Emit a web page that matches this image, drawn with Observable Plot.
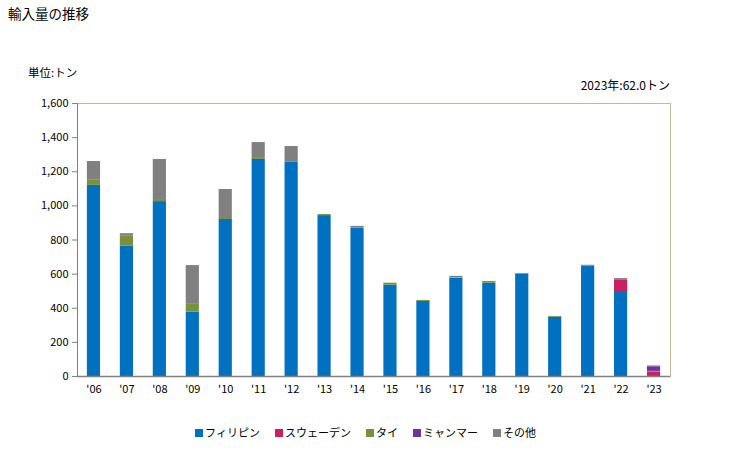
<!DOCTYPE html>
<html><head><meta charset="utf-8">
<script src="https://cdn.jsdelivr.net/npm/d3@7"></script>
<script src="https://cdn.jsdelivr.net/npm/@observablehq/plot@0.6"></script>
<style>
body{margin:0;background:#fff;font-family:"Noto Sans CJK JP","Noto Sans",sans-serif;}
#wrap{position:relative;width:729px;height:450px;}
.t{position:absolute;font-size:12px;color:#000;white-space:nowrap;}
#legend{position:absolute;top:424px;left:0;width:729px;display:flex;justify-content:center;gap:15px;font-size:11px;padding-left:2px;box-sizing:border-box;}
#legend span.sw{display:inline-block;width:8px;height:8px;margin-right:2px;vertical-align:middle;position:relative;top:-1px;}
</style></head>
<body><div id="wrap">
<div class="t" style="left:8px;top:3px;font-size:13.5px;">輸入量の推移</div>
<div class="t" style="left:28px;top:64px;font-size:11.5px;">単位:トン</div>
<div class="t" style="right:59px;top:76px;">2023年:62.0トン</div>
<div id="legend"></div>
</div>
<script>
const years = ["'06","'07","'08","'09","'10","'11","'12","'13","'14","'15","'16","'17","'18","'19","'20","'21","'22","'23"];
const seriesNames = ["フィリピン","スウェーデン","タイ","ミャンマー","その他"];
const seriesColors = ["#0070C0","#CC1F62","#76923C","#7030A0","#808080"];
const philippines = [1120,765,1025,377,920,1272,1255,943,870,535,440,575,547,600,347,647,498,0];
const sweden      = [0,0,0,0,0,0,0,0,0,0,0,0,0,0,0,0,65,27];
const thailand    = [30,60,12,50,6,11,5,6,1,12,6,3,10,4,5,5,0,3];
const myanmar     = [0,0,0,0,0,0,0,0,0,0,0,0,0,0,0,0,0,27];
const others      = [110,12,235,223,170,88,88,0,9,0,0,9,0,0,0,0,11,5];
const yTicks = [0,200,400,600,800,1000,1200,1400,1600];

const seriesValues = [philippines, sweden, thailand, myanmar, others];
const data = [];
seriesNames.forEach((s,i)=>years.forEach((y,j)=>data.push({year:y, series:s, value:seriesValues[i][j]})));

const chart = Plot.plot({
  width:729, height:450,
  marginLeft:77, marginRight:59, marginTop:103, marginBottom:74,
  style:{fontFamily:"'Noto Sans CJK JP','Noto Sans',sans-serif", fontSize:"11px", color:"#000", background:"#fff"},
  x:{domain:years, paddingInner:0.6, paddingOuter:0.3, round:false, label:null},
  y:{domain:[0,1600], label:null},
  color:{domain:seriesNames, range:seriesColors},
  marks:[
    Plot.frame({stroke:"#C4BC96"}),
    Plot.barY(data,{x:"year", y:"value", fill:"series", order:seriesNames}),
    Plot.frame({anchor:"left", stroke:"#808080"}),
    Plot.ruleY([0],{stroke:"#808080", strokeWidth:1.5}),
    Plot.axisY({ticks:yTicks, tickSize:5, tickPadding:4, tickFormat:d3.format(","), stroke:"#808080", fontSize:11}),
    Plot.axisX({tickSize:0, tickPadding:9, fontSize:11})
  ]
});
document.getElementById("wrap").prepend(chart);
chart.style.position="absolute"; chart.style.left="0"; chart.style.top="0";

const lg = document.getElementById("legend");
seriesNames.forEach((s,i)=>{
  const d=document.createElement("div");
  d.innerHTML=`<span class="sw" style="background:${seriesColors[i]}"></span>${s}`;
  lg.appendChild(d);
});
</script>
</body></html>
